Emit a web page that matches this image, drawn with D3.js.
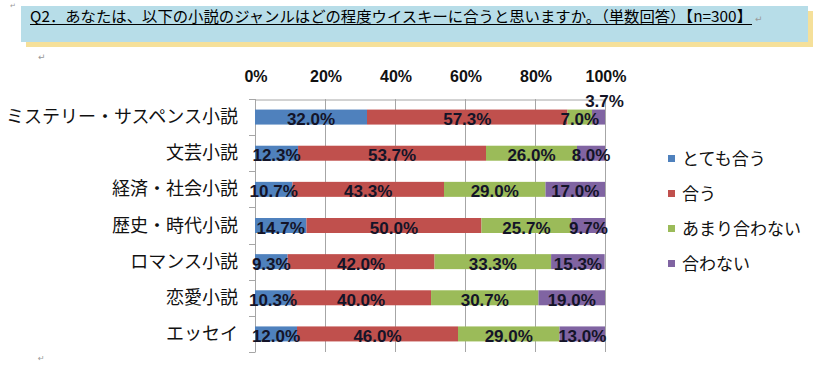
<!DOCTYPE html>
<html>
<head>
<meta charset="utf-8">
<script src="https://cdn.jsdelivr.net/npm/d3@7"></script>
<style>
  html, body { margin: 0; padding: 0; background: #fff; }
  svg { display: block; }
</style>
</head>
<body>
<svg id="chart" width="838" height="365"></svg>
<script>
const title = "Q2．あなたは、以下の小説のジャンルはどの程度ウイスキーに合うと思いますか。（単数回答）【n=300】";
const categories = ["ミステリー・サスペンス小説", "文芸小説", "経済・社会小説", "歴史・時代小説", "ロマンス小説", "恋愛小説", "エッセイ"];
const seriesNames = ["とても合う", "合う", "あまり合わない", "合わない"];
const seriesColors = ["#4F81BD", "#C0504D", "#9BBB59", "#8064A2"];
const veryGood = [32.0, 12.3, 10.7, 14.7, 9.3, 10.3, 12.0];
const good = [57.3, 53.7, 43.3, 50.0, 42.0, 40.0, 46.0];
const notMuch = [7.0, 26.0, 29.0, 25.7, 33.3, 30.7, 29.0];
const notAtAll = [3.7, 8.0, 17.0, 9.7, 15.3, 19.0, 13.0];
const tickValues = [0, 20, 40, 60, 80, 100];

const svg = d3.select("#chart");
const seriesValues = [veryGood, good, notMuch, notAtAll];

// Title box
svg.append("rect").attr("x", 26).attr("y", 11).attr("width", 787).attr("height", 36).attr("fill", "#F5E09A");
svg.append("rect").attr("x", 21).attr("y", 6).attr("width", 787).attr("height", 36).attr("fill", "#B7DDE8");
svg.append("text")
  .attr("x", 30).attr("y", 22)
  .attr("font-family", "'Noto Sans CJK JP', sans-serif")
  .attr("font-size", 15)
  .attr("fill", "#000")
  .attr("textLength", 722)
  .attr("lengthAdjust", "spacingAndGlyphs")
  .text(title);
svg.append("line").attr("x1", 30).attr("x2", 752).attr("y1", 24.5).attr("y2", 24.5)
  .attr("stroke", "#000").attr("stroke-width", 1);

// paragraph marks
const marks = [[755, 22, 9], [38, 60, 9], [38, 361, 8], [10, 8, 7]];
svg.selectAll("text.pm").data(marks).enter().append("text")
  .attr("class", "pm")
  .attr("x", d => d[0]).attr("y", d => d[1])
  .attr("font-family", "'DejaVu Sans', sans-serif")
  .attr("font-size", d => d[2]).attr("fill", "#999")
  .text("↵");

// Chart
const x = d3.scaleLinear().domain([0, 100]).range([255, 605]);
const y = d3.scaleBand().domain(categories).range([99, 352]).paddingInner(0).paddingOuter(0);
const barH = 15;

// gridlines
svg.append("g").selectAll("line").data(tickValues.slice(1)).enter().append("line")
  .attr("x1", d => x(d) + 0.5).attr("x2", d => x(d) + 0.5)
  .attr("y1", 99).attr("y2", 352)
  .attr("stroke", "#A6A6A6").attr("stroke-width", 1);

// top value axis
const xAxis = d3.axisTop(x).tickValues(tickValues).tickFormat(d => d + "%").tickSize(0).tickPadding(18);
const gx = svg.append("g").attr("transform", "translate(0.5,99.5)").call(xAxis);
gx.select(".domain").attr("stroke", "#A6A6A6");
gx.selectAll("text")
  .attr("font-family", "'Liberation Sans', Arial, sans-serif")
  .attr("font-weight", "bold").attr("font-size", 16).attr("fill", "#111");

// left category axis
svg.append("line").attr("x1", 255.5).attr("x2", 255.5).attr("y1", 99).attr("y2", 352)
  .attr("stroke", "#A6A6A6");
const bounds = categories.map(c => y(c)).concat([y.range()[1]]);
svg.append("g").selectAll("line").data(bounds).enter().append("line")
  .attr("x1", 249).attr("x2", 255.5)
  .attr("y1", d => Math.round(d) + 0.5).attr("y2", d => Math.round(d) + 0.5)
  .attr("stroke", "#A6A6A6");

svg.append("g").selectAll("text").data(categories).enter().append("text")
  .attr("x", 238)
  .attr("y", d => y(d) + y.bandwidth() / 2 + 6)
  .attr("text-anchor", "end")
  .attr("font-family", "'Noto Sans CJK JP', sans-serif")
  .attr("font-size", 18).attr("fill", "#111")
  .text(d => d);

// stacked bars
const rows = categories.map((c, i) => {
  const o = { cat: c };
  seriesNames.forEach((s, j) => { o[s] = seriesValues[j][i]; });
  return o;
});
const stack = d3.stack().keys(seriesNames)(rows);

const layers = svg.append("g").selectAll("g").data(stack).enter().append("g")
  .attr("fill", (d, i) => seriesColors[i]);
layers.selectAll("rect").data(d => d).enter().append("rect")
  .attr("x", d => x(d[0]))
  .attr("width", d => x(d[1]) - x(d[0]))
  .attr("y", d => y(d.data.cat) + y.bandwidth() / 2 - barH / 2)
  .attr("height", barH);

// data labels
const labelG = svg.append("g");
stack.forEach((layer, i) => {
  layer.forEach(d => {
    const v = d[1] - d[0];
    const cy = y(d.data.cat) + y.bandwidth() / 2;
    const small = v < 5;
    labelG.append("text")
      .attr("x", (x(d[0]) + x(d[1])) / 2 + (small ? 6 : 0))
      .attr("y", small ? cy - barH / 2 - 3 : cy + 8)
      .attr("text-anchor", "middle")
      .attr("font-family", "'Liberation Sans', Arial, sans-serif")
      .attr("font-weight", "bold").attr("font-size", 17).attr("fill", "#141428")
      .text(v.toFixed(1) + "%");
  });
});

// legend
const legend = svg.append("g").selectAll("g").data(seriesNames).enter().append("g")
  .attr("transform", (d, i) => `translate(668, ${159 + i * 35})`);
legend.append("rect").attr("x", 0).attr("y", -4).attr("width", 7).attr("height", 7)
  .attr("fill", (d, i) => seriesColors[i]);
legend.append("text").attr("x", 14).attr("y", 6)
  .attr("font-family", "'Noto Sans CJK JP', sans-serif")
  .attr("font-size", 17).attr("fill", "#111")
  .text(d => d);
</script>
</body>
</html>
